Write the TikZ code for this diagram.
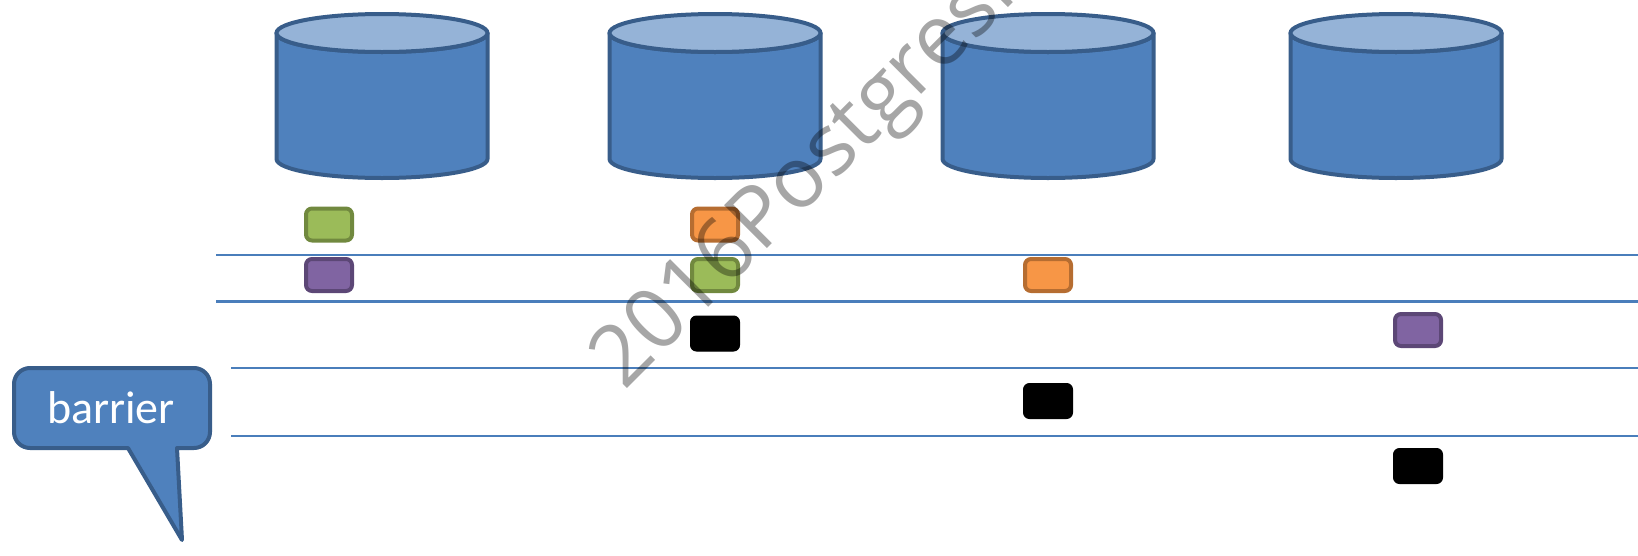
\documentclass[tikz,border=0pt]{standalone}
\usepackage{fontspec}
\setmainfont{Carlito}
\newfontfamily\wmfont{Open Sans}
\definecolor{cylfill}{HTML}{4F81BD}
\definecolor{cyltop}{HTML}{95B3D7}
\definecolor{cylline}{HTML}{385D8A}
\definecolor{rulecol}{HTML}{4A7EBB}
\definecolor{grfill}{HTML}{9BBB59}
\definecolor{grline}{HTML}{71893F}
\definecolor{pufill}{HTML}{8064A2}
\definecolor{puline}{HTML}{5C4776}
\definecolor{orfill}{HTML}{F79646}
\definecolor{orline}{HTML}{B66D31}
\tikzset{
  cylbody/.style={fill=cylfill, draw=cylline, line width=4pt, line join=round},
  cyltopst/.style={fill=cyltop, draw=cylline, line width=4pt},
  rulestyle/.style={draw=rulecol, line width=2.6pt},
  smallbox/.style={rectangle, rounded corners=6pt, minimum width=46pt, minimum height=32pt, line width=4pt, inner sep=0pt},
  greenbox/.style={smallbox, fill=grfill, draw=grline},
  purplebox/.style={smallbox, fill=pufill, draw=puline},
  orangebox/.style={smallbox, fill=orfill, draw=orline},
  blackbox/.style={smallbox, fill=black, draw=black, line width=1pt, minimum width=49pt, minimum height=35pt},
  callout/.style={fill=cylfill, draw=cylline, line width=4pt, line join=round},
  wmark/.style={inner sep=0pt, text=black, text opacity=0.35, font=\wmfont\fontsize{85}{90}\selectfont}
}
\newcommand{\dbcyl}[1]{%
  \filldraw[cylbody] ({#1-105.5},33) -- ({#1-105.5},159)
     arc[start angle=180, end angle=0, x radius=105.5, y radius=19]
     -- ({#1+105.5},33)
     arc[start angle=0, end angle=180, x radius=105.5, y radius=19] -- cycle;
  \filldraw[cyltopst] (#1,33) ellipse[x radius=105.5, y radius=19];
}
\begin{document}
\begin{tikzpicture}[x=1pt, y=-1pt]
\useasboundingbox (0,0) rectangle (1638,555);
% databases
\dbcyl{382}
\dbcyl{715}
\dbcyl{1048}
\dbcyl{1396}
% rules
\draw[rulestyle] (216,255) -- (1640,255);
\draw[rulestyle] (216,301.5) -- (1640,301.5);
\draw[rulestyle] (231,368) -- (1640,368);
\draw[rulestyle] (231,436) -- (1640,436);
% blocks
\node[greenbox]  (c1g) at (329,224.5) {};
\node[purplebox] (c1p) at (329,275) {};
\node[orangebox] (c2o) at (715,224.5) {};
\node[greenbox]  (c2g) at (715,275) {};
\node[blackbox]  (c2k) at (715,333.5) {};
\node[orangebox] (c3o) at (1048,275) {};
\node[blackbox]  (c3k) at (1048,401) {};
\node[purplebox] (c4p) at (1418,330) {};
\node[blackbox]  (c4k) at (1418,466) {};
% barrier callout
\filldraw[callout] (30,368) -- (194,368) arc[start angle=-90, end angle=0, radius=16]
   -- (210,432) arc[start angle=0, end angle=90, radius=16]
   -- (177,448) -- (182,540) -- (128,448) -- (30,448)
   arc[start angle=90, end angle=180, radius=16]
   -- (14,384) arc[start angle=180, end angle=270, radius=16] -- cycle;
\node[anchor=base, text=white, inner sep=0pt, font=\fontsize{46}{50}\selectfont] (lbl) at (111,423) {barrier};
% watermark
\node[wmark, anchor=base west, rotate=45] (wm) at (624,392) {2016PostgresPro};
\end{tikzpicture}
\end{document}
